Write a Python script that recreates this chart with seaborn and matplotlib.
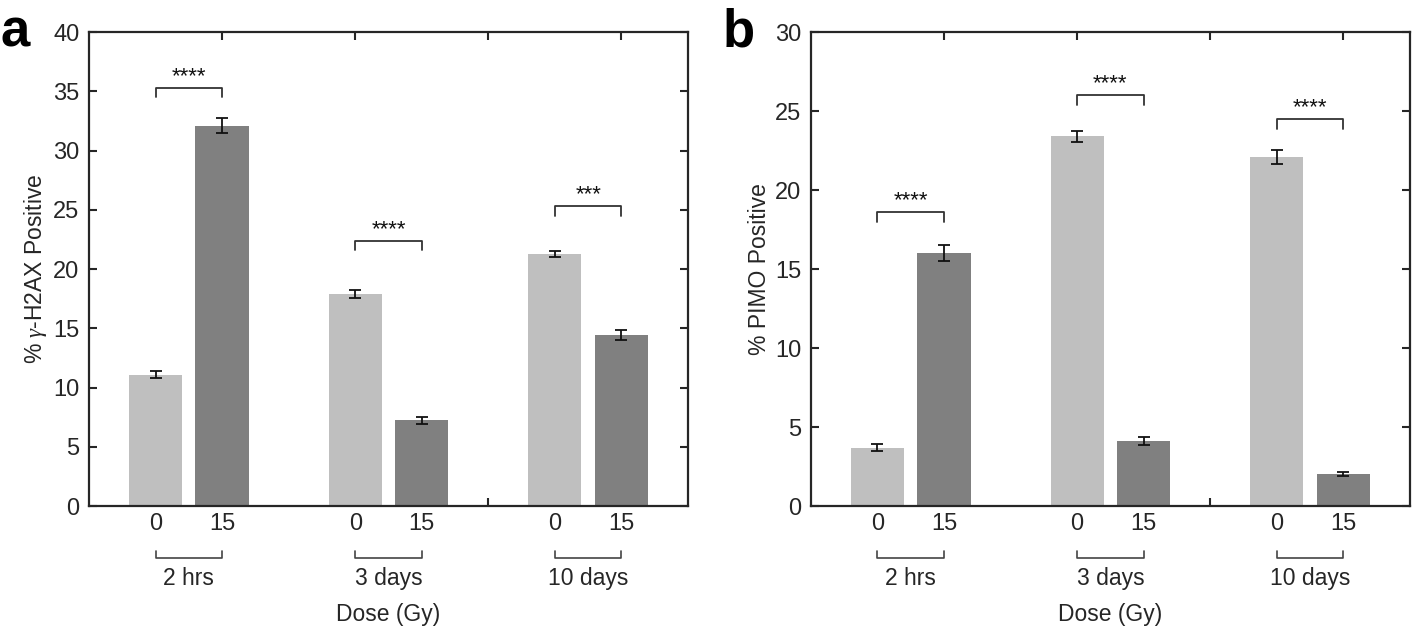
import numpy as np
import pandas as pd
import seaborn as sns
import matplotlib.pyplot as plt
from matplotlib.transforms import blended_transform_factory

# data
groups = ["2 hrs", "3 days", "10 days"]
doses = ["0", "15"]
xpos = [0.5, 1.0, 2.0, 2.5, 3.5, 4.0]

h2ax_mean = [11.1, 32.1, 17.9, 7.25, 21.25, 14.45]
h2ax_err = [0.3, 0.65, 0.3, 0.3, 0.25, 0.4]
h2ax_sig = ["****", "****", "***"]
h2ax_sig_y = [35.3, 22.4, 25.3]

pimo_mean = [3.7, 16.0, 23.4, 4.1, 22.1, 2.05]
pimo_err = [0.2, 0.5, 0.35, 0.25, 0.45, 0.12]
pimo_sig = ["****", "****", "****"]
pimo_sig_y = [18.6, 26.0, 24.5]

light = "#bfbfbf"
dark = "#808080"
txt = "#262626"

sns.set_theme(style="white")
plt.rcParams['font.family'] = ['Liberation Sans', 'DejaVu Sans']
plt.rcParams['mathtext.fontset'] = 'custom'
plt.rcParams['mathtext.it'] = 'Liberation Serif:italic'

fig = plt.figure(figsize=(14.15, 6.31), dpi=100)
axa = fig.add_axes([0.0629, 0.198, 0.4233, 0.751])
axb = fig.add_axes([0.5731, 0.198, 0.4233, 0.751])


def panel(ax, means, errs, sig, sig_y, ymax, ylabel, letter):
    df = pd.DataFrame({"x": xpos, "y": means, "dose": doses * 3})
    sns.barplot(data=df, x="x", y="y", hue="dose", native_scale=True,
                dodge=False, palette=[light, dark], width=0.8,
                linewidth=0, legend=False, ax=ax)
    ax.errorbar(xpos, means, yerr=errs, fmt="none", ecolor="#111111",
                elinewidth=1.3, capsize=4, capthick=1.3, zorder=3)
    ax.set_xlim(0, 4.5)
    ax.set_ylim(0, ymax)
    ax.set_xticks([1, 2, 3, 4])
    ax.set_xticklabels([])
    ax.set_yticks(np.arange(0, ymax + 1, 5))
    ax.set_axisbelow(True)
    ax.tick_params(direction="in", length=6, width=1.5, color=txt,
                   top=True, right=True, bottom=True, left=True,
                   labelsize=17, labelcolor=txt, pad=7)
    for s in ax.spines.values():
        s.set_color(txt)
        s.set_linewidth(1.6)
    ax.set_xlabel("")
    ax.set_ylabel(ylabel, fontsize=16.5, color=txt, labelpad=3)

    tr = blended_transform_factory(ax.transData, ax.transAxes)
    # dose labels, group brackets
    for i, g in enumerate(groups):
        x0, x1 = xpos[2 * i], xpos[2 * i + 1]
        ax.text(x0, -0.037, doses[0], transform=tr, ha="center",
                va="center", fontsize=17, color=txt)
        ax.text(x1, -0.037, doses[1], transform=tr, ha="center",
                va="center", fontsize=17, color=txt)
        ax.plot([x0, x0, x1, x1], [-0.095, -0.11, -0.11, -0.095],
                transform=tr, color="#444444", lw=1.2, clip_on=False)
        ax.text((x0 + x1) / 2, -0.152, g, transform=tr, ha="center",
                va="center", fontsize=16.5, color=txt)
        # significance bracket
        yy = sig_y[i]
        d = ymax * 0.02
        ax.plot([x0, x0, x1, x1], [yy - d, yy, yy, yy - d], color="#333333",
                lw=1.3)
        ax.text((x0 + x1) / 2, yy + ymax * 0.002, sig[i], ha="center",
                va="bottom", fontsize=16, color="#111111")
    ax.text(2.25, -0.228, "Dose (Gy)", transform=tr, ha="center",
            va="center", fontsize=16.5, color=txt)
    ax.text(-0.148, 1.0, letter, transform=ax.transAxes, ha="left",
            va="center", fontsize=38, fontweight="bold", color="black")


panel(axa, h2ax_mean, h2ax_err, h2ax_sig, h2ax_sig_y, 40,
      r"% $\gamma$-H2AX Positive", "a")
panel(axb, pimo_mean, pimo_err, pimo_sig, pimo_sig_y, 30,
      "% PIMO Positive", "b")

fig.savefig("out.png", dpi=100)
